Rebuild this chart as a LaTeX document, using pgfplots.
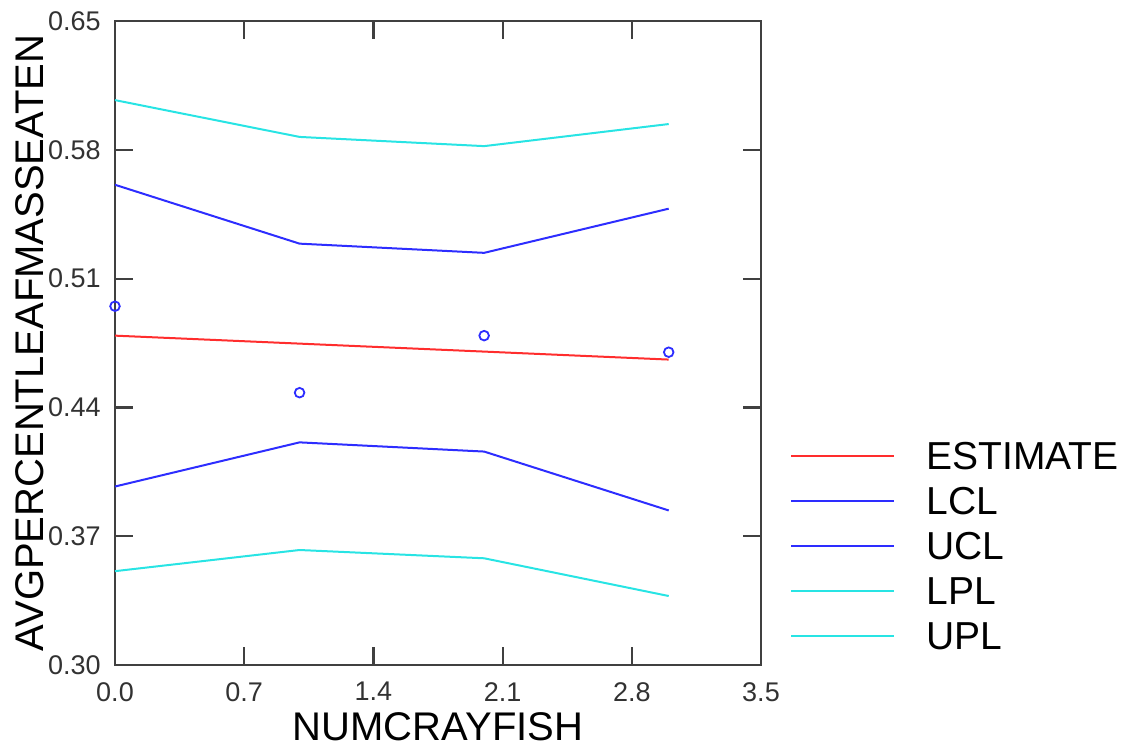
\documentclass[border=0pt]{standalone}
\usepackage{fontspec}
\setmainfont{Liberation Sans}
\usepackage{pgfplots}
\pgfplotsset{compat=1.18}
\definecolor{estc}{RGB}{255,45,45}
\definecolor{clc}{RGB}{45,45,255}
\definecolor{plc}{RGB}{40,228,228}
\definecolor{axc}{RGB}{64,64,64}
\definecolor{tickc}{RGB}{50,50,50}

\begin{document}
\begin{tikzpicture}
\useasboundingbox (-57.5pt,-43.5pt) rectangle (505pt,332.5pt);
\begin{axis}[
  scale only axis, width=323pt, height=322pt,
  xmin=0, xmax=3.5, ymin=0.30, ymax=0.65,
  xtick={0,0.7,1.4,2.1,2.8,3.5},
  ytick={0.30,0.37,0.44,0.51,0.58,0.65},
  tick align=inside, major tick length=9pt,
  axis line style={axc, line width=1.1pt},
  every tick/.style={axc, line width=1.1pt},
  /pgf/number format/assume math mode=true,
  x tick label style={font=\fontsize{13.5}{13.5}\selectfont, text=tickc, inner sep=0pt,
    /pgf/number format/.cd, fixed, fixed zerofill, precision=1},
  y tick label style={font=\fontsize{13.5}{13.5}\selectfont, text=tickc, inner sep=0pt,
    /pgf/number format/.cd, fixed, fixed zerofill, precision=2},
  xticklabel shift=8.5pt, yticklabel shift=7pt,
  xlabel={NUMCRAYFISH}, ylabel={AVGPERCENTLEAFMASSEATEN},
  xlabel style={font=\fontsize{20}{20}\selectfont, inner sep=0pt,
    at={(axis description cs:0.5,0)}, anchor=center, yshift=-31pt},
  ylabel style={font=\fontsize{20}{20}\selectfont, inner sep=0pt,
    at={(axis description cs:-0.1316,0.5)}, anchor=center},
  legend style={draw=none, fill=none, inner sep=0pt,
    at={(rel axis cs:1.0449,0.3494)}, anchor=north west,
    font=\fontsize{19.5}{19.5}\selectfont,
    nodes={inner sep=0pt, text height=14.5pt, text depth=0pt},
    row sep=8pt, column sep=15.5pt},
  legend cell align=left,
  legend image code/.code={\draw[#1] (0pt,-0.5pt) -- (51.5pt,-0.5pt);},
]
\addplot[estc, line width=1pt] coordinates {(0,0.479) (3,0.466)};
\addplot[clc, line width=1pt] coordinates {(0,0.397) (1,0.421) (2,0.416) (3,0.384)};
\addplot[clc, line width=1pt] coordinates {(0,0.561) (1,0.529) (2,0.524) (3,0.548)};
\addplot[plc, line width=1pt] coordinates {(0,0.351) (1,0.3625) (2,0.358) (3,0.3375)};
\addplot[plc, line width=1pt] coordinates {(0,0.607) (1,0.587) (2,0.582) (3,0.594)};
\addplot[only marks, mark=o, mark size=2.4pt, clc, line width=0.9pt, forget plot]
  coordinates {(0,0.495) (1,0.448) (2,0.479) (3,0.470)};
\legend{ESTIMATE, LCL, UCL, LPL, UPL}
\end{axis}
\end{tikzpicture}
\end{document}
